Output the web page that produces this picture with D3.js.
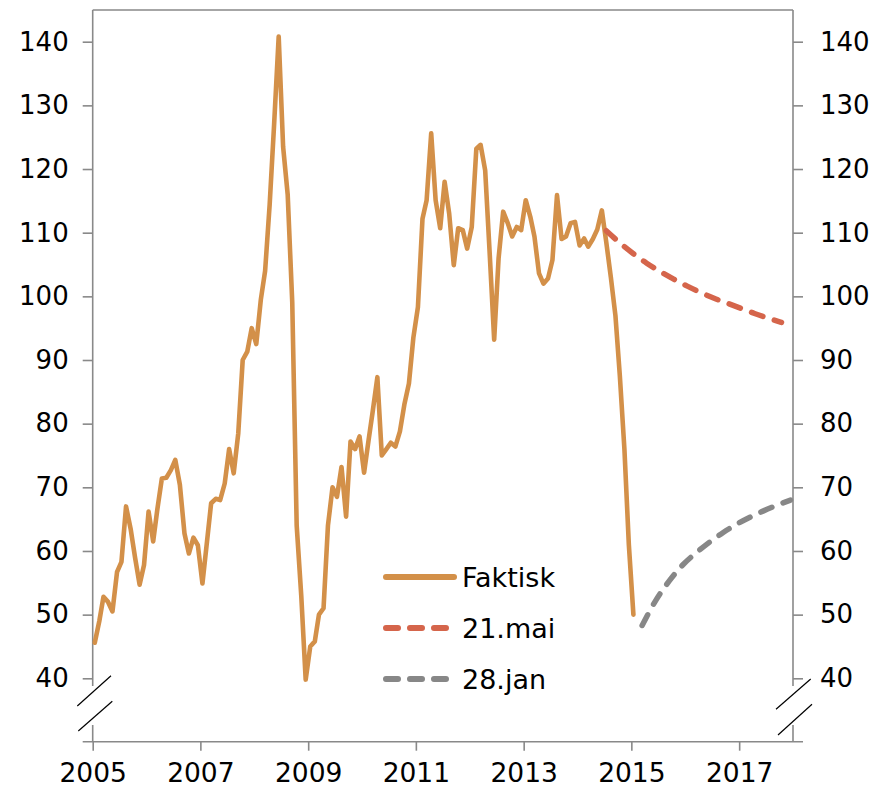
<!DOCTYPE html>
<html>
<head>
<meta charset="utf-8">
<script src="https://cdn.jsdelivr.net/npm/d3@7"></script>
<style>
  body { margin: 0; background: #fff; }
  text { font-family: "DejaVu Sans", Verdana, sans-serif; fill: #000; }
</style>
</head>
<body>
<svg id="chart" width="877" height="794"></svg>
<script>
(function() {

    // monthly values, first month Jan 2005
    var faktiskStart = "2005-01";
    var faktisk = [
        45.6, 49.0, 52.8, 52.0, 50.5, 56.7, 58.3, 67.0, 63.5, 59.0, 54.7, 57.8,
        66.2, 61.5, 66.5, 71.4, 71.5, 72.7, 74.3, 70.4, 62.8, 59.6, 62.1, 60.9,
        54.9, 61.5, 67.5, 68.2, 68.0, 70.6, 76.0, 72.2, 78.5, 90.0, 91.3, 95.0,
        92.5, 99.5, 104.0, 114.5, 127.0, 140.8, 123.5, 116.0, 99.0, 64.0, 53.0, 39.8,
        45.0, 45.8, 50.0, 51.0, 64.0, 70.0, 68.5, 73.2, 65.4, 77.2, 76.0, 78.0,
        72.3, 77.5, 82.0, 87.3, 75.0, 76.0, 77.0, 76.4, 78.8, 83.0, 86.3, 93.5,
        98.3, 112.2, 115.1, 125.6, 115.1, 110.7, 118.0, 113.0, 104.9, 110.7, 110.4, 107.5,
        110.9, 123.2, 123.8, 119.8, 107.0, 93.2, 106.0, 113.3, 111.5, 109.4, 110.9, 110.4,
        115.1, 112.5, 109.4, 103.6, 102.0, 102.8, 105.7, 115.9, 109.0, 109.4, 111.5, 111.7,
        108.0, 109.1, 107.8, 109.0, 110.5, 113.5, 108.5, 103.0, 97.0, 87.5, 76.0, 61.0,
        50.0
    ];

    var mai21Months = ["2014-07", "2014-10", "2015-01", "2015-04", "2015-07", "2015-10", "2016-01",
        "2016-04", "2016-07", "2016-10", "2017-01", "2017-04", "2017-07", "2017-10"];
    var mai21 = [110.3, 108.4, 106.7, 105.2, 103.9, 102.7, 101.6, 100.6, 99.7, 98.9, 98.1, 97.3, 96.6, 95.9];

    var jan28Months = ["2015-03", "2015-06", "2015-09", "2015-12", "2016-03", "2016-06", "2016-09",
        "2016-12", "2017-03", "2017-06", "2017-09", "2017-12"];
    var jan28 = [48.3, 52.2, 55.3, 57.8, 59.7, 61.4, 62.9, 64.2, 65.3, 66.3, 67.2, 68.0];

    var yTicks = [40, 50, 60, 70, 80, 90, 100, 110, 120, 130, 140];
    var xTickYears = [2005, 2007, 2009, 2011, 2013, 2015, 2017];

    var legendItems = [
        { label: "Faktisk", color: "#d39049", dash: null },
        { label: "21.mai", color: "#d5654b", dash: "12,12" },
        { label: "28.jan", color: "#878787", dash: "12,12" }
    ];

    var svg = d3.select("#chart");
    var left = 92.7, right = 793, top = 10, bottom = 741.7;
    var axisColor = "#898989";

    var parseMonth = d3.timeParse("%Y-%m");
    function mid(d) { return new Date(d.getFullYear(), d.getMonth(), 15); }

    var startDate = parseMonth(faktiskStart);
    var faktiskData = faktisk.map(function(v, i) {
        return { date: new Date(startDate.getFullYear(), startDate.getMonth() + i, 15), value: v };
    });
    var mai21Data = mai21Months.map(function(m, i) { return { date: mid(parseMonth(m)), value: mai21[i] }; });
    var jan28Data = jan28Months.map(function(m, i) { return { date: mid(parseMonth(m)), value: jan28[i] }; });

    var x = d3.scaleTime()
        .domain([new Date(2005, 0, 1), new Date(2018, 0, 1)])
        .range([left, right]);

    var y = d3.scaleLinear()
        .domain([40, 140])
        .range([678.3, 41.7]);

    // frame
    svg.append("line")
        .attr("x1", left).attr("x2", right)
        .attr("y1", top).attr("y2", top)
        .style("stroke", axisColor).style("stroke-width", 1.6);

    // y axes, drawn in two pieces around the break
    [left, right].forEach(function(xp) {
        svg.append("line")
            .attr("x1", xp).attr("x2", xp).attr("y1", top).attr("y2", 686)
            .style("stroke", axisColor).style("stroke-width", 1.6);
        svg.append("line")
            .attr("x1", xp).attr("x2", xp).attr("y1", 725).attr("y2", bottom)
            .style("stroke", axisColor).style("stroke-width", 1.6);
    });

    var yLeft = d3.axisLeft(y).tickValues(yTicks).tickSize(10).tickPadding(14);
    var yRight = d3.axisRight(y).tickValues(yTicks).tickSize(10).tickPadding(17);

    var gl = svg.append("g").attr("transform", "translate(" + left + ",0)").call(yLeft);
    var gr = svg.append("g").attr("transform", "translate(" + right + ",0)").call(yRight);
    [gl, gr].forEach(function(g) {
        g.select(".domain").remove();
        g.selectAll(".tick line").style("stroke", axisColor).style("stroke-width", 1.6);
        g.selectAll(".tick text").style("font-size", "26px").attr("font-family", null);
    });

    // bottom axis line reaches past both y axes
    svg.append("line")
        .attr("x1", left - 10).attr("x2", right + 10)
        .attr("y1", bottom).attr("y2", bottom)
        .style("stroke", axisColor).style("stroke-width", 1.6);

    var xAxis = d3.axisBottom(x)
        .tickValues(xTickYears.map(function(yr) { return new Date(yr, 0, 1); }))
        .tickFormat(d3.timeFormat("%Y"))
        .tickSize(9)
        .tickPadding(12);

    var gx = svg.append("g").attr("transform", "translate(0," + bottom + ")").call(xAxis);
    gx.select(".domain").remove();
    gx.selectAll(".tick line").style("stroke", axisColor).style("stroke-width", 1.6);
    gx.selectAll(".tick text").style("font-size", "26.5px").attr("font-family", null);

    // axis break marks
    var breaks = [
        [77.3, 706, 111, 675.7], [78.3, 731, 112.3, 701.3],
        [776, 709.3, 810.7, 679], [778, 735, 812, 704.3]
    ];
    svg.selectAll("line.brk")
        .data(breaks)
        .enter()
        .append("line")
        .attr("class", "brk")
        .attr("x1", function(d) { return d[0]; })
        .attr("y1", function(d) { return d[1]; })
        .attr("x2", function(d) { return d[2]; })
        .attr("y2", function(d) { return d[3]; })
        .style("stroke", "#000")
        .style("stroke-width", 1.2);

    var line = d3.line()
        .x(function(d) { return x(d.date); })
        .y(function(d) { return y(d.value); });

    var smooth = d3.line()
        .curve(d3.curveMonotoneX)
        .x(function(d) { return x(d.date); })
        .y(function(d) { return y(d.value); });

    svg.append("path")
        .datum(faktiskData)
        .attr("d", line)
        .style("fill", "none")
        .style("stroke", legendItems[0].color)
        .style("stroke-width", 4.6)
        .style("stroke-linejoin", "round")
        .style("stroke-linecap", "round");

    [[mai21Data, legendItems[1]], [jan28Data, legendItems[2]]].forEach(function(s) {
        svg.append("path")
            .datum(s[0])
            .attr("d", smooth)
            .style("fill", "none")
            .style("stroke", s[1].color)
            .style("stroke-width", 5.5)
            .style("stroke-dasharray", s[1].dash)
            .style("stroke-linecap", "round");
    });

    // legend
    var legend = svg.append("g").attr("transform", "translate(386,577)");
    var items = legend.selectAll("g")
        .data(legendItems)
        .enter()
        .append("g")
        .attr("transform", function(d, i) { return "translate(0," + (i * 51) + ")"; });

    items.append("line")
        .attr("x1", 0).attr("x2", 68)
        .attr("y1", 0).attr("y2", 0)
        .style("stroke", function(d) { return d.color; })
        .style("stroke-width", 6)
        .style("stroke-linecap", "round")
        .style("stroke-dasharray", function(d) { return d.dash ? "12,12" : null; });

    items.append("text")
        .attr("x", 76)
        .attr("y", 0)
        .attr("dy", "0.36em")
        .style("font-size", "27px")
        .text(function(d) { return d.label; });

})();
</script>
</body>
</html>
